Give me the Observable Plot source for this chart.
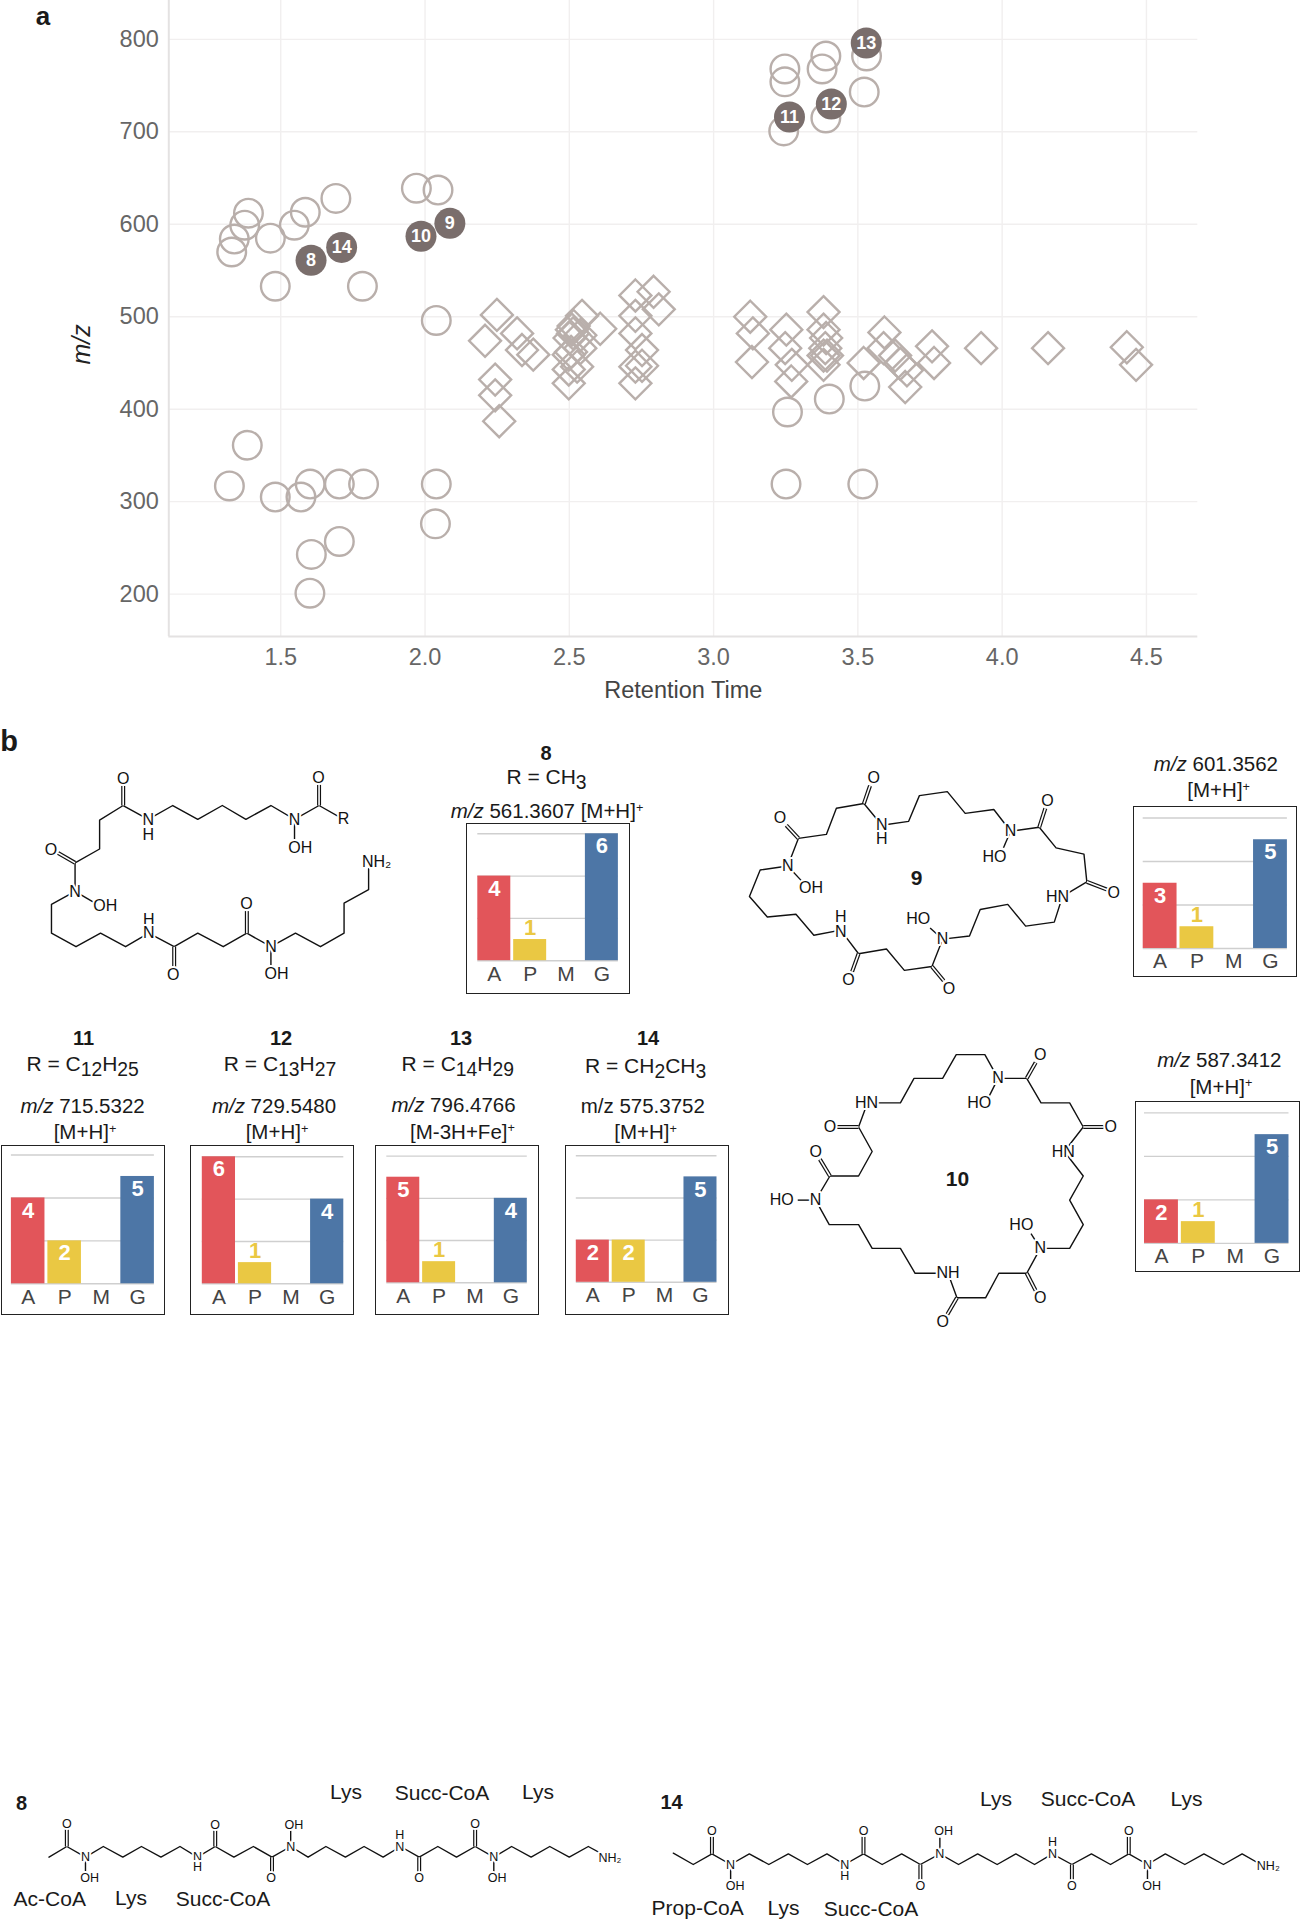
<!DOCTYPE html>
<html><head><meta charset="utf-8">
<script src="https://cdn.jsdelivr.net/npm/d3@7"></script>
<script src="https://cdn.jsdelivr.net/npm/@observablehq/plot@0.6"></script>
<style>
html,body{margin:0;padding:0;background:#fff}
#page{position:relative;width:1301px;height:1920px;overflow:hidden;font-family:"Liberation Sans",Arial,sans-serif;color:#1a1a1a}
#page svg{position:absolute;overflow:visible;background:transparent}
.t{position:absolute;transform:translate(-50%,-50%);white-space:nowrap;line-height:1}
.frame{position:absolute;box-sizing:border-box;border:1.6px solid #222}
.b{font-weight:bold}
.s{font-size:.92em;position:relative;top:.24em}
.u{font-size:.62em;position:relative;top:-.5em}
</style></head><body><div id="page"></div>
<script>
// ---------- scatter data (retention time, m/z) ----------
const circleRT=[1.388,1.375,1.339,1.330,1.464,1.547,1.585,1.691,1.481,1.783,1.970,2.045,2.039,1.384,1.322,1.481,1.570,1.602,1.703,1.787,2.039,2.036,1.703,1.606,1.601,3.247,3.247,3.389,3.376,3.530,3.522,3.389,3.243,3.524,3.401,3.256,3.251,3.517];
const circleMZ=[612,599,584,570,585,599,613,628,533,533,639,637,496,361,317,305,305,319,319,319,319,276,257,243,201,768,754,782,768,782,743,715,701,425,411,397,319,319];
const diamondRT=[2.249,2.208,2.319,2.336,2.375,2.243,2.243,2.257,2.544,2.607,2.509,2.513,2.538,2.501,2.498,2.527,2.498,2.498,2.506,2.538,2.515,2.729,2.792,2.810,2.729,2.729,2.752,2.729,2.752,2.729,3.127,3.136,3.133,3.252,3.248,3.271,3.269,3.381,3.381,3.390,3.387,3.381,3.381,3.393,3.592,3.589,3.520,3.629,3.647,3.664,3.670,3.757,3.764,3.927,4.159,4.432,4.464];
const diamondMZ=[502,474,482,464,459,432,415,387,501,487,486,482,466,477,459,446,428,443,462,480,490,523,527,508,501,482,464,446,447,428,500,482,451,486,466,448,430,505,486,477,466,448,458,458,483,466,450,458,449,424,442,468,450,466,466,467,448];
const hitLabels=["8","14","10","9","13","12","11"];
const hitRT=[1.605,1.711,1.986,2.086,3.529,3.408,3.263];
const hitMZ=[561,575,587,601,796,730,716];
const xTicks=[1.5,2.0,2.5,3.0,3.5,4.0,4.5];
const yTicks=[200,300,400,500,600,700,800];

// ---------- module count bars ----------
const categories=["A","P","M","G"];
const panelIds=["8","9","10","11","12","13","14"];
const countA=[4,3,2,4,6,5,2];
const countP=[1,1,1,2,1,1,2];
const countM=[0,0,0,0,0,0,0];
const countG=[6,5,5,5,4,4,5];
const barColors=["#e2555a","#eac843","#888888","#4d76a6"];
// frame left, top, right, bottom, plot left, plot right, baseline, top gridline
const panelBoxes=[
 [466.3,823.2,630.5,993.6,477.6,618.2,960.4,833.5],
 [1132.8,805.8,1297.4,976.6,1142.5,1286.7,947.8,817.3],
 [1135.3,1101.2,1300,1272,1144.3,1288.8,1243.1,1112.6],
 [0.5,1144.7,164.7,1315.5,10.4,153.4,1283,1154.2],
 [189.7,1144.7,354,1315.5,201.5,343,1283,1156],
 [375.2,1144.7,539.4,1315.5,386.5,527,1282,1155.3],
 [564.9,1144.7,729,1315.5,575.7,716.4,1281.5,1155]
];

// ---------- chemical structures (read in crop coordinates) ----------
const molA={box:[0,720,740,620],dom:[1568,1568],fs:16,
 chains:[[[727,250],[675,215],[623,250],[573,215],[520,250],[470,215],[418,250],[365,215],[313,250],[260,215],[210,252],[210,325],[158,360],[158,432],[108,465],[108,538],[160,572],[212,538],[265,572],[314,538],[368,572],[418,538],[472,572],[522,538],[573,572],[625,538],[678,572],[728,538],[728,462],[780,428],[780,375]]],
 singles:[[623,250,623,305],[158,432,205,465],[573,572,573,625]],
 doubles:[[675,215,675,162],[260,215,260,165],[158,360,122,335],[522,538,522,482],[368,572,368,625]],
 atoms:[["O",674,145],["O",260,148],["O",107,327],["O",521,465],["O",366,643],["R",727,250],["N",623,252],["OH",635,322],["N",313,252],["H",313,288],["N",158,433],["OH",222,468],["H",314,503],["N",314,538],["N",573,572],["OH",585,642],["NH₂",797,358]]};
const mol9={box:[740,720,561,620],dom:[1568,1568],fs:16,
 chains:[[[132,368],[55,378],[25,445],[75,497],[155,490],[205,543],[280,530],[330,590],[408,578],[458,632],[535,622],[565,553],[640,545],[670,478],[747,465],[797,520],[877,510],[900,445],[968,408],[960,338],[882,322],[835,270],[755,280],[708,225],[628,235],[578,180],[500,190],[470,255],[395,265],[345,210],[268,222],[240,288],[162,298],[132,368]]],
 singles:[[132,368,170,405],[755,280,735,322],[565,553,530,525]],
 doubles:[[345,210,362,165],[162,298,128,265],[835,270,852,222],[968,408,1025,428],[330,590,312,635],[535,622,568,658]],
 atoms:[["O",372,145],["O",110,245],["O",858,203],["O",1043,435],["O",302,655],["O",583,678],["N",132,368],["OH",197,423],["H",280,497],["N",280,535],["N",395,265],["H",395,300],["HN",886,445],["N",755,280],["HO",710,345],["N",565,553],["HO",497,502]]};
const mol10={box:[740,720,561,620],dom:[1568,1568],fs:16,
 chains:[[[720,905],[683,845],[603,845],[565,905],[485,905],[447,967],[355,967],[330,1028],[368,1090],[330,1152],[250,1152],[210,1213],[248,1275],[330,1275],[368,1335],[447,1335],[488,1398],[580,1398],[605,1460],[685,1460],[722,1398],[800,1398],[838,1335],[920,1335],[958,1275],[920,1213],[958,1152],[905,1090],[958,1028],[920,967],[840,967],[800,905],[720,905]]],
 singles:[[720,905,695,950],[210,1213,160,1213],[838,1335,812,1298]],
 doubles:[[330,1028,270,1028],[250,1152,222,1110],[605,1460,578,1502],[800,1398,825,1442],[958,1028,1015,1028],[800,905,825,865]],
 atoms:[["O",838,845],["O",250,1028],["O",210,1092],["O",565,1522],["O",838,1460],["O",1035,1028],["N",720,905],["HO",667,967],["HN",352,967],["N",210,1213],["HO",115,1213],["NH",580,1398],["N",838,1335],["HO",785,1275],["HN",902,1090]]};
const mol8Line={box:[0,1760,650,160],dom:[1568,480],fs:12.5,
 chains:[[[117,290],[160,258],[205,290],[248,258],[295,290],[340,258],[387,290],[433,258],[475,290],[518,258],[563,290],[610,258],[655,290],[700,258],[742,290],[785,258],[832,290],[877,258],[923,290],[965,258],[1010,290],[1055,258],[1100,290],[1145,258],[1190,290],[1233,258],[1280,290],[1325,258],[1372,290],[1418,258],[1465,290]]],
 singles:[[205,290,205,335],[700,258,700,210],[1190,290,1190,335]],
 doubles:[[160,258,160,205],[518,258,518,205],[655,290,655,340],[1010,290,1010,340],[1145,258,1145,205]],
 atoms:[["O",160,190],["O",518,192],["O",653,352],["O",1010,352],["O",1145,190],["N",205,290],["OH",215,352],["N",475,288],["H",475,320],["N",700,258],["OH",708,192],["H",963,222],["N",963,258],["N",1190,290],["OH",1198,352],["NH₂",1470,292]]};
const mol14Line={box:[650,1760,651,160],dom:[1568,480],fs:12.5,
 chains:[[[55,278],[103,312],[148,280],[193,312],[238,280],[285,312],[332,280],[378,312],[425,280],[468,312],[513,280],[558,312],[605,280],[650,312],[697,280],[742,312],[788,280],[835,312],[880,280],[925,312],[968,280],[1015,312],[1062,280],[1108,312],[1152,280],[1197,312],[1240,280],[1287,312],[1333,280],[1380,312],[1425,280],[1470,312]]],
 singles:[[193,312,193,358],[697,280,697,232],[1197,312,1197,358]],
 doubles:[[148,280,148,228],[513,280,513,228],[650,312,650,362],[1015,312,1015,362],[1152,280,1152,228]],
 atoms:[["O",148,212],["O",513,212],["O",650,377],["O",1015,377],["O",1152,212],["N",193,312],["OH",204,377],["N",468,312],["H",468,345],["N",697,280],["OH",706,212],["H",968,245],["N",968,280],["N",1197,312],["OH",1207,377],["NH₂",1488,315]]};

// ---------- text ----------
const sub=s=>`<span class="s">${s}</span>`;
const sup=s=>`<span class="u">${s}</span>`;
const mz=`<i>m/z</i>`;
const texts=[
 ["a",43,16,26,"b"],["b",9,741,29,"b"],
 ["8",546,752.8,20,"b"],[`R = CH${sub(3)}`,546.5,777,21],[`${mz} 561.3607 [M+H]${sup("+")}`,547,811,20.5],
 [`${mz} 601.3562`,1215.9,763.9,20.5],[`[M+H]${sup("+")}`,1218.7,790.4,20.5],
 [`${mz} 587.3412`,1219.4,1060,20.5],[`[M+H]${sup("+")}`,1221,1086.5,20.5],
 ["9",916.7,876.6,21,"b"],["10",957.5,1177.5,21,"b"],
 ["11",83.5,1038.3,20,"b"],[`R = C${sub(12)}H${sub(25)}`,82.6,1064,21],[`${mz} 715.5322`,82.6,1105.5,20.5],[`[M+H]${sup("+")}`,85,1132,20.5],
 ["12",281,1038.3,20,"b"],[`R = C${sub(13)}H${sub(27)}`,280,1064,21],[`${mz} 729.5480`,274,1105.5,20.5],[`[M+H]${sup("+")}`,277,1132,20.5],
 ["13",461,1038.3,20,"b"],[`R = C${sub(14)}H${sub(29)}`,457.8,1064,21],[`${mz} 796.4766`,453.5,1105,20.5],[`[M-3H+Fe]${sup("+")}`,462.5,1131.5,20.5],
 ["14",648,1038.3,20,"b"],[`R = CH${sub(2)}CH${sub(3)}`,645.6,1066,21],[`m/z 575.3752`,642.8,1105.5,20.5],[`[M+H]${sup("+")}`,645.6,1132,20.5],
 ["8",21.6,1803,20,"b"],["Lys",346,1790.7,21],["Succ-CoA",442,1791.7,21],["Lys",538,1790.7,21],
 ["Ac-CoA",49.8,1898,21],["Lys",131,1897,21],["Succ-CoA",223,1898,21],
 ["14",671.6,1802,20,"b"],["Lys",996,1798,21],["Succ-CoA",1088,1797.7,21],["Lys",1186.5,1797.7,21],
 ["Prop-CoA",697.7,1907,21],["Lys",783.5,1907,21],["Succ-CoA",871,1908,21]
];

// ---------- drawing ----------
const page=document.getElementById("page");
const FONT='"Liberation Sans",Arial,sans-serif';
const put=(el,l,t)=>{el.style.left=l+"px";el.style.top=t+"px";page.appendChild(el);};

const circleShape={draw(ctx,size){const r=Math.sqrt(size/Math.PI);ctx.moveTo(r,0);ctx.arc(0,0,r,0,2*Math.PI);}};
const pts=(a,b)=>a.map((x,i)=>({x,y:b[i]}));
const hits=hitLabels.map((label,i)=>({label,x:hitRT[i],y:hitMZ[i]}));
const STROKE="#b9afab";

put(Plot.plot({
 width:1301,height:710,marginLeft:168.3,marginRight:103.7,marginTop:0,marginBottom:74.1,
 style:{fontFamily:FONT,background:"transparent"},
 x:{domain:[1.112,4.678],axis:null},
 y:{domain:[154.3,842],axis:null},
 marks:[
  Plot.gridX(xTicks,{stroke:"#f1efef",strokeOpacity:1,strokeWidth:1.4}),
  Plot.gridY(yTicks,{stroke:"#f1efef",strokeOpacity:1,strokeWidth:1.4}),
  Plot.ruleX([1.112],{stroke:"#e4e2e2",strokeWidth:2}),
  Plot.ruleY([154.3],{stroke:"#e4e2e2",strokeWidth:2}),
  Plot.axisX(xTicks,{tickSize:0,tickPadding:12,fontSize:23.5,fill:"#666",tickFormat:d3.format(".1f"),label:null,anchor:"bottom"}),
  Plot.axisY(yTicks,{tickSize:0,tickPadding:10,fontSize:23.5,fill:"#666",label:null,anchor:"left"}),
  Plot.text(["Retention Time"],{frameAnchor:"bottom",dy:62,fontSize:23.5,fill:"#444"}),
  Plot.text(["m/z"],{frameAnchor:"left",textAnchor:"middle",dx:-87,dy:26,rotate:-90,fontSize:25,fontStyle:"italic",fill:"#222"}),
  Plot.dot(pts(diamondRT,diamondMZ),{x:"x",y:"y",symbol:"diamond2",r:14.4,stroke:STROKE,strokeWidth:2.4,fill:"none"}),
  Plot.dot(pts(circleRT,circleMZ),{x:"x",y:"y",symbol:circleShape,r:14.3,stroke:STROKE,strokeWidth:2.4,fill:"none"}),
  Plot.dot(hits,{x:"x",y:"y",r:15.5,fill:"#7a6e6c"}),
  Plot.text(hits,{x:"x",y:"y",text:"label",fill:"#fff",fontWeight:"bold",fontSize:18})
 ]
}),0,0);

function drawMol(m){
 const [l,t,w,h]=m.box;
 const links=o=>Plot.link(m.doubles,{x1:d=>d[0],y1:d=>d[1],x2:d=>d[2],y2:d=>d[3],...o});
 put(Plot.plot({
  width:w,height:h,margin:0,
  style:{fontFamily:FONT,background:"transparent"},
  x:{domain:[0,m.dom[0]],axis:null},
  y:{domain:[m.dom[1],0],axis:null},
  marks:[
   ...m.chains.map(c=>Plot.line(c,{x:d=>d[0],y:d=>d[1],stroke:"#111",strokeWidth:1.4,strokeLinejoin:"round"})),
   Plot.link(m.singles,{x1:d=>d[0],y1:d=>d[1],x2:d=>d[2],y2:d=>d[3],stroke:"#111",strokeWidth:1.4}),
   links({stroke:"#111",strokeWidth:4}),
   links({stroke:"#fff",strokeWidth:1.6}),
   Plot.text(m.atoms,{x:d=>d[1],y:d=>d[2],text:d=>d[0],fontSize:m.fs,fill:"#111",stroke:"#fff",strokeWidth:4})
  ]
 }),l,t);
}
[molA,mol9,mol10,mol8Line,mol14Line].forEach(drawMol);

panelIds.forEach((id,i)=>{
 const [fl,ft,fr,fb,pl,pr,base,top]=panelBoxes[i];
 const vals=[countA[i],countP[i],countM[i],countG[i]];
 const rows=categories.map((c,j)=>({c,v:vals[j]})).filter(d=>d.v>0);
 const frame=document.createElement("div");
 frame.className="frame";frame.style.width=(fr-fl)+"px";frame.style.height=(fb-ft)+"px";
 put(frame,fl,ft);
 put(Plot.plot({
  width:fr-fl,height:fb-ft,
  marginLeft:pl-fl,marginRight:fr-pr,marginTop:top-ft,marginBottom:fb-base,
  style:{fontFamily:FONT,background:"transparent"},
  x:{domain:categories,paddingInner:0.08,paddingOuter:0,round:false,axis:null},
  y:{domain:[0,6],axis:null},
  color:{domain:categories,range:barColors},
  marks:[
   Plot.gridY([0,2,4,6],{stroke:"#cfcfcf",strokeOpacity:1,strokeWidth:1.4}),
   Plot.barY(rows,{x:"c",y:"v",fill:"c"}),
   Plot.text(rows.filter(d=>d.v>1),{x:"c",y:"v",text:d=>String(d.v),fill:"#fff",fontWeight:"bold",fontSize:22,lineAnchor:"top",dy:4}),
   Plot.text(rows.filter(d=>d.v===1),{x:"c",y:"v",text:d=>String(d.v),fill:"#eac843",fontWeight:"bold",fontSize:22,lineAnchor:"bottom",dy:-5}),
   Plot.axisX(categories,{tickSize:0,tickPadding:5,fontSize:21,fill:"#444",label:null,anchor:"bottom"})
  ]
 }),fl,ft);
});

texts.forEach(([html,x,y,fs,w])=>{
 const d=document.createElement("div");
 d.className="t"+(w?" b":"");d.innerHTML=html;d.style.fontSize=fs+"px";
 put(d,x,y);
});
</script></body></html>
